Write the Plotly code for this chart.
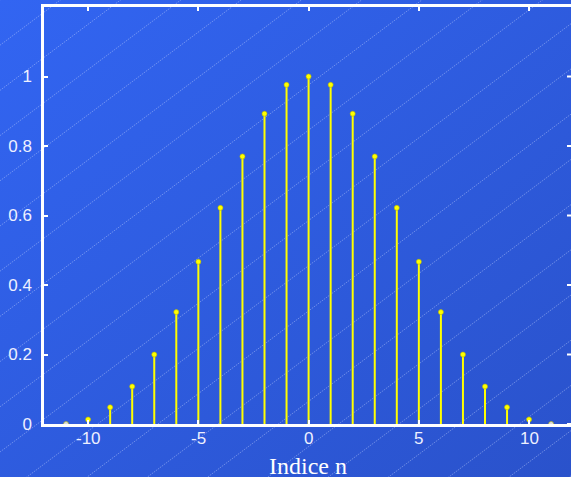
import base64
import plotly.graph_objects as go

# ---- data ----
n_values = [-11, -10, -9, -8, -7, -6, -5, -4, -3, -2, -1, 0, 1, 2, 3, 4, 5, 6, 7, 8, 9, 10, 11]
amplitudes = [0.0, 0.013, 0.048, 0.108, 0.2, 0.322, 0.467, 0.622, 0.77, 0.893, 0.976, 1.0,
              0.976, 0.893, 0.77, 0.622, 0.467, 0.322, 0.2, 0.108, 0.048, 0.013, 0.0]
x_ticks = [-10, -5, 0, 5, 10]
x_tick_labels = ["-10", "-5", "0", "5", "10"]
y_ticks = [0, 0.2, 0.4, 0.6, 0.8, 1]
y_tick_labels = ["0", "0.2", "0.4", "0.6", "0.8", "1"]
x_label = "Indice n"

W, H = 571, 477
ML, MR, MT, MB = 44, 0, 7, 53
PW, PH = W - ML - MR, H - MT - MB

# ---- background: gradient with diagonal light lines (SVG image) ----
lines = []
c = -45.2
while c < H + 0.75 * W + 50:
    lines.append(f'<line x1="0" y1="{c:.1f}" x2="{W}" y2="{c - 0.75 * W:.1f}" '
                 f'stroke="#c8d6ff" stroke-opacity="0.5" stroke-width="0.8" stroke-dasharray="1.5,1"/>')
    c += 45.2
svg = (f'<svg xmlns="http://www.w3.org/2000/svg" width="{W}" height="{H}" viewBox="0 0 {W} {H}">'
       '<defs><linearGradient id="g" x1="0" y1="0" x2="1" y2="1">'
       '<stop offset="0" stop-color="#3265f2"/><stop offset="1" stop-color="#2a52cb"/>'
       '</linearGradient></defs>'
       f'<rect width="{W}" height="{H}" fill="url(#g)"/>' + "".join(lines) + '</svg>')
bg_src = "data:image/svg+xml;base64," + base64.b64encode(svg.encode()).decode()

# ---- stems ----
sx, sy = [], []
for n, a in zip(n_values, amplitudes):
    sx += [n, n, None]
    sy += [0, a, None]

marker_colors = ["#dcdcdc" if a == 0 else "#ffff00" for a in amplitudes]

fig = go.Figure()
fig.add_trace(go.Scatter(x=sx, y=sy, mode="lines",
                         line=dict(color="#ffff00", width=2), hoverinfo="skip",
                         showlegend=False))
fig.add_trace(go.Scatter(x=n_values, y=amplitudes, mode="markers",
                         marker=dict(color=marker_colors, size=5,
                                     line=dict(color="#b8b800", width=0.6)),
                         showlegend=False))

font_ticks = dict(family="Liberation Sans, Arial, sans-serif", size=17, color="#eef0ff")

# right-side inward tick marks (axis frame decoration)
right_ticks = [dict(type="line", xref="paper", yref="y", x0=1 - 4 / PW, x1=1,
                    y0=v, y1=v, line=dict(color="white", width=2)) for v in y_ticks]

# x tick labels placed on the x scale (annotations), plus the axis label
annotations = [dict(text=t, x=v, xref="x", yref="paper", y=-(438 - (MT + PH)) / PH,
                    xanchor="center", yanchor="middle", showarrow=False, font=font_ticks,
                    borderpad=0)
               for v, t in zip(x_ticks, x_tick_labels)]
annotations.append(dict(text=x_label, xref="paper", yref="paper", x=0.5,
                        y=-(466 - (MT + PH)) / PH, xanchor="center", yanchor="middle",
                        showarrow=False, borderpad=0,
                        font=dict(family="Liberation Serif, Times New Roman, serif",
                                  size=24, color="white")))

fig.update_layout(
    width=W, height=H,
    margin=dict(l=ML, r=MR, t=MT, b=MB, pad=0),
    paper_bgcolor="#2e5bdf",
    plot_bgcolor="rgba(0,0,0,0)",
    images=[dict(source=bg_src, xref="paper", yref="paper",
                 x=-ML / PW, y=1 + MT / PH, sizex=W / PW, sizey=H / PH,
                 xanchor="left", yanchor="top", sizing="stretch", layer="below")],
    shapes=right_ticks,
    annotations=annotations,
    xaxis=dict(range=[-12, 11.9], tickmode="array", tickvals=x_ticks,
               showticklabels=False,
               ticks="inside", ticklen=4,
               tickwidth=2, tickcolor="white", showline=True, linecolor="white",
               linewidth=2.5, mirror="ticks", showgrid=False, zeroline=False),
    yaxis=dict(range=[0, 1.2], tickvals=y_ticks, ticktext=y_tick_labels,
               ticks="inside", ticklen=4, tickwidth=2, tickcolor="white",
               showline=True, linecolor="white", linewidth=2.5,
               showgrid=False, zeroline=False, tickfont=font_ticks,
               ticklabelstandoff=6),
)

fig.write_html("out.html")
